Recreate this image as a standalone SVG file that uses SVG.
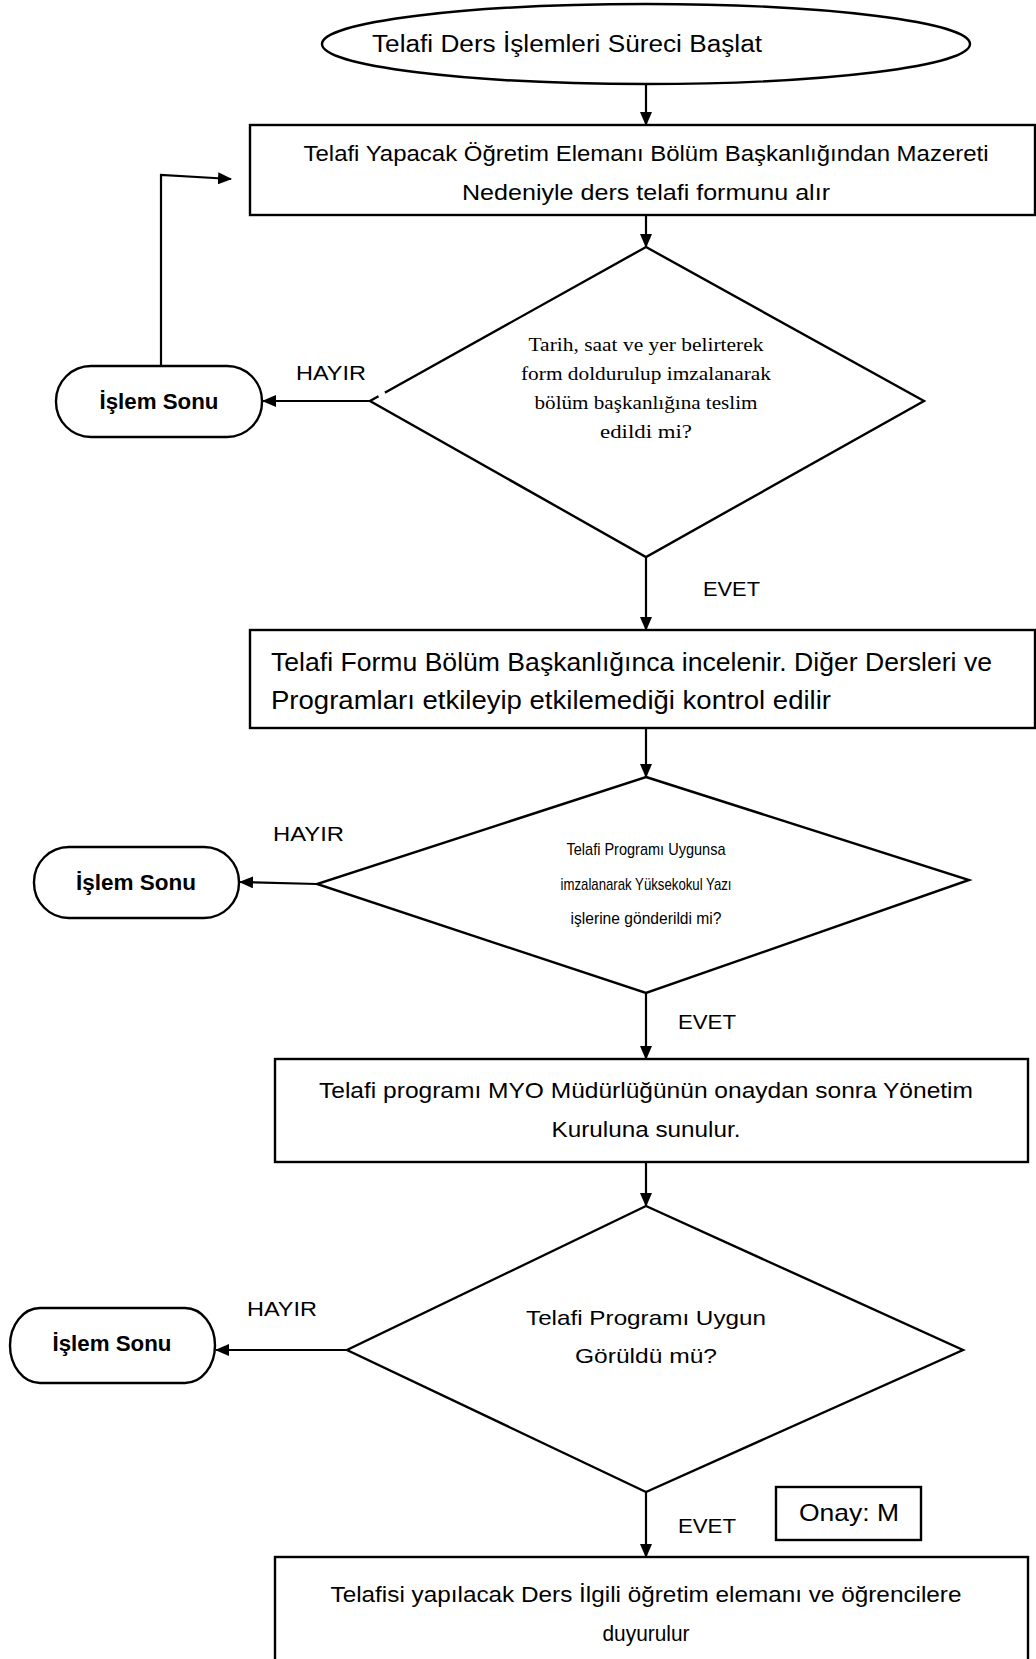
<svg xmlns="http://www.w3.org/2000/svg" width="1036" height="1659" viewBox="0 0 1036 1659">
<style>
.s{fill:#fff;stroke:#000;stroke-width:2.4}
.t{font-family:"Liberation Sans",Arial,sans-serif;fill:#000;text-anchor:middle}
.tl{font-family:"Liberation Sans",Arial,sans-serif;fill:#000}
.tr{font-family:"Liberation Serif","Times New Roman",serif;fill:#000;text-anchor:middle;font-size:19px}
.b{font-weight:bold;font-size:22px}
.c{fill:none;stroke:#000;stroke-width:2.2}
</style>
<defs>
<marker id="ah" markerWidth="14" markerHeight="12" refX="13" refY="6" orient="auto" markerUnits="userSpaceOnUse">
<path d="M0,0 L14,6 L0,12 Z" fill="#000"/>
</marker>
</defs>
<rect width="1036" height="1659" fill="#fff"/>
<g id="connectors">
<line class="c" x1="646" y1="85" x2="646" y2="125" marker-end="url(#ah)"/>
<line class="c" x1="646" y1="215" x2="646" y2="247" marker-end="url(#ah)"/>
<line class="c" x1="370" y1="401" x2="263" y2="401" marker-end="url(#ah)"/>
<polyline class="c" points="161,366 161,175 231,179" marker-end="url(#ah)"/>
<line class="c" x1="646" y1="557" x2="646" y2="630" marker-end="url(#ah)"/>
<line class="c" x1="646" y1="728" x2="646" y2="777" marker-end="url(#ah)"/>
<line class="c" x1="317" y1="884" x2="240" y2="882" marker-end="url(#ah)"/>
<line class="c" x1="646" y1="993" x2="646" y2="1059" marker-end="url(#ah)"/>
<line class="c" x1="646" y1="1162" x2="646" y2="1206" marker-end="url(#ah)"/>
<line class="c" x1="347" y1="1350" x2="216" y2="1350" marker-end="url(#ah)"/>
<line class="c" x1="646" y1="1492" x2="646" y2="1557" marker-end="url(#ah)"/>
<text class="tl" x="296" y="380" font-size="21" textLength="70" lengthAdjust="spacingAndGlyphs">HAYIR</text>
<text class="tl" x="703" y="596" font-size="21" textLength="57" lengthAdjust="spacingAndGlyphs">EVET</text>
<text class="tl" x="273" y="841" font-size="21" textLength="71" lengthAdjust="spacingAndGlyphs">HAYIR</text>
<text class="tl" x="678" y="1029" font-size="21" textLength="58" lengthAdjust="spacingAndGlyphs">EVET</text>
<text class="tl" x="247" y="1316" font-size="21" textLength="70" lengthAdjust="spacingAndGlyphs">HAYIR</text>
<text class="tl" x="678" y="1533" font-size="21" textLength="58" lengthAdjust="spacingAndGlyphs">EVET</text>
</g>
<g id="start">
<ellipse class="s" cx="646" cy="44" rx="324" ry="40"/>
<text class="tl" x="372" y="52" font-size="23" textLength="390" lengthAdjust="spacingAndGlyphs">Telafi Ders İşlemleri Süreci Başlat</text>
</g>
<g id="box1">
<rect class="s" x="250" y="125" width="785" height="90"/>
<text class="t" x="646" y="161" font-size="22" textLength="685" lengthAdjust="spacingAndGlyphs">Telafi Yapacak Öğretim Elemanı Bölüm Başkanlığından Mazereti</text>
<text class="t" x="646" y="200" font-size="22" textLength="368" lengthAdjust="spacingAndGlyphs">Nedeniyle ders telafi formunu alır</text>
</g>
<g id="dec1">
<polygon class="s" points="646,247 924,401 646,557 370,401"/>
<line x1="378.5" y1="396.3" x2="385" y2="392.7" stroke="#fff" stroke-width="4"/>
<text class="tr" x="646" y="351" textLength="235" lengthAdjust="spacingAndGlyphs">Tarih, saat ve yer belirterek</text>
<text class="tr" x="646" y="380" textLength="250" lengthAdjust="spacingAndGlyphs">form doldurulup imzalanarak</text>
<text class="tr" x="646" y="409" textLength="223" lengthAdjust="spacingAndGlyphs">bölüm başkanlığına teslim</text>
<text class="tr" x="646" y="438" textLength="92" lengthAdjust="spacingAndGlyphs">edildi mi?</text>
</g>
<g id="end1">
<rect class="s" x="56" y="366" width="206" height="71" rx="35" ry="35"/>
<text class="t b" x="159" y="409" textLength="119" lengthAdjust="spacingAndGlyphs">İşlem Sonu</text>
</g>
<g id="box2">
<rect class="s" x="250" y="630" width="785" height="98"/>
<text class="tl" x="271" y="671" font-size="25" textLength="721" lengthAdjust="spacingAndGlyphs">Telafi Formu Bölüm Başkanlığınca incelenir. Diğer Dersleri ve</text>
<text class="tl" x="271" y="709" font-size="25" textLength="560" lengthAdjust="spacingAndGlyphs">Programları etkileyip etkilemediği kontrol edilir</text>
</g>
<g id="dec2">
<polygon class="s" points="646,777 969,880 646,993 317,884"/>
<text class="t" x="646" y="855" font-size="17" textLength="159" lengthAdjust="spacingAndGlyphs">Telafi Programı Uygunsa</text>
<text class="t" x="646" y="890" font-size="17" textLength="171" lengthAdjust="spacingAndGlyphs">imzalanarak Yüksekokul Yazı</text>
<text class="t" x="646" y="924" font-size="17" textLength="151" lengthAdjust="spacingAndGlyphs">işlerine gönderildi mi?</text>
</g>
<g id="end2">
<rect class="s" x="34" y="847" width="205" height="71" rx="35" ry="35"/>
<text class="t b" x="136" y="890" textLength="120" lengthAdjust="spacingAndGlyphs">İşlem Sonu</text>
</g>
<g id="box3">
<rect class="s" x="275" y="1059" width="753" height="103"/>
<text class="t" x="646" y="1098" font-size="22" textLength="654" lengthAdjust="spacingAndGlyphs">Telafi programı MYO Müdürlüğünün onaydan sonra Yönetim</text>
<text class="t" x="646" y="1137" font-size="22" textLength="189" lengthAdjust="spacingAndGlyphs">Kuruluna sunulur.</text>
</g>
<g id="dec3">
<polygon class="s" points="646,1206 963,1350 646,1492 347,1350"/>
<text class="t" x="646" y="1325" font-size="21" textLength="240" lengthAdjust="spacingAndGlyphs">Telafi Programı Uygun</text>
<text class="t" x="646" y="1363" font-size="21" textLength="142" lengthAdjust="spacingAndGlyphs">Görüldü mü?</text>
</g>
<g id="end3">
<rect class="s" x="10" y="1308" width="205" height="75" rx="30" ry="40"/>
<text class="t b" x="112" y="1351" textLength="119" lengthAdjust="spacingAndGlyphs">İşlem Sonu</text>
</g>
<g id="onay">
<rect class="s" x="776" y="1487" width="145" height="53"/>
<text class="t" x="849" y="1521" font-size="24" textLength="100" lengthAdjust="spacingAndGlyphs">Onay: M</text>
</g>
<g id="box4">
<rect class="s" x="275" y="1557" width="753" height="110"/>
<text class="t" x="646" y="1602" font-size="22" textLength="631" lengthAdjust="spacingAndGlyphs">Telafisi yapılacak Ders İlgili öğretim elemanı ve öğrencilere</text>
<text class="t" x="646" y="1641" font-size="22" textLength="87" lengthAdjust="spacingAndGlyphs">duyurulur</text>
</g>
</svg>
